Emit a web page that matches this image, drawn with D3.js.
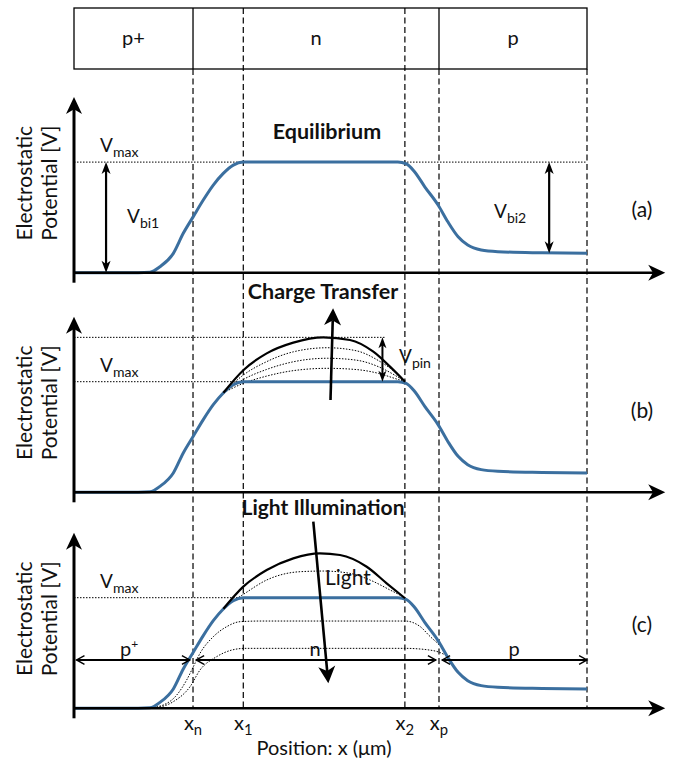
<!DOCTYPE html>
<html><head><meta charset="utf-8">
<script src="https://cdn.jsdelivr.net/npm/d3@7"></script>
<style>
body{margin:0;background:#fff}
svg text{font-family:Lato,"Open Sans",sans-serif;fill:#111}
</style>
</head><body>
<svg id="chart" width="681" height="762"></svg>
<script>
// ---------------- DATA ----------------
const regionNames = ["p+", "n", "p"];
const regionEdges = [0, 1.856, 5.692, 8];           // μm
const markerNames = [["x","n"], ["x","1"], ["x","2"], ["x","p"]];
const markerPos = [1.856, 2.64, 5.16, 5.692];        // μm
const deviceEnd = 8;                                 // μm
const panelTags = ["(a)", "(b)", "(c)"];
const panelTitles = ["Equilibrium", "Charge Transfer", "Light Illumination"];
const vmax = 1.0;          // V (normalised)
const vp = 0.175;          // p-side level
const vpinTop = 1.401;     // charge-transfer peak

// equilibrium potential profile [μm, V]
const equilibrium = [[0,0],[1.0,0],[1.185,0.004],[1.341,0.054],[1.549,0.175],[1.704,0.356],[1.86,0.507],
  [2.016,0.657],[2.172,0.792],[2.328,0.898],[2.484,0.973],[2.64,1.0],[3.9,1.0],[5.05,1.0],[5.18,0.985],
  [5.31,0.913],[5.47,0.777],[5.68,0.61],[5.83,0.46],[5.99,0.325],[6.14,0.25],[6.35,0.205],[6.61,0.19],
  [7.3,0.18],[8,0.175]];
// charge transfer curves
const chargeFull  = [[2.33,0.9],[2.64,1.104],[3.005,1.256],[3.42,1.353],[3.888,1.401],[4.304,1.377],[4.668,1.271],[4.928,1.136],[5.162,1.0]];
const chargeStep1 = [[2.33,0.9],[2.64,1.06],[3.0,1.18],[3.42,1.27],[3.95,1.307],[4.4,1.28],[4.75,1.19],[5.0,1.09],[5.162,1.0]];
const chargeStep2 = [[2.33,0.9],[2.64,1.02],[3.0,1.11],[3.42,1.18],[3.95,1.212],[4.4,1.195],[4.75,1.135],[5.0,1.06],[5.162,1.0]];
const chargeStep3 = [[2.33,0.9],[2.64,0.985],[3.0,1.05],[3.42,1.1],[3.95,1.121],[4.4,1.11],[4.75,1.075],[5.0,1.03],[5.162,1.0]];
// light illumination curves
const lightFull = [[2.33,0.9],[2.64,1.10],[3.005,1.25],[3.42,1.356],[3.836,1.401],[4.148,1.386],[4.565,1.28],[4.876,1.13],[5.162,0.995]];
const lightHigh = [[2.45,0.96],[2.64,1.03],[3.005,1.16],[3.524,1.235],[3.888,1.241],[4.304,1.22],[4.616,1.16],[4.928,1.07],[5.162,1.0]];
const lightLow1 = [[1.1,0],[1.341,0.02],[1.602,0.12],[1.757,0.256],[1.861,0.376],[1.965,0.497],[2.172,0.647],[2.381,0.738],
  [2.589,0.783],[2.9,0.789],[5.162,0.789],[5.396,0.74],[5.552,0.65],[5.73,0.56]];
const lightLow2 = [[1.15,0],[1.237,0.003],[1.549,0.06],[1.809,0.195],[1.965,0.346],[2.225,0.467],[2.45,0.525],[2.667,0.542],
  [5.162,0.542],[5.5,0.53],[5.68,0.51],[5.8,0.48]];
// annotation arrows [μm, V]
const vbi1Arrow = [[0.5,0],[0.5,1.0]];
const vbi2Arrow = [[7.41,0.175],[7.41,1.0]];
const vpinArrow = [[4.81,1.0],[4.81,1.401]];
const transferArrow = [[4.0,0.835],[4.04,1.664]];
const lightArrow = [[3.732,1.687],[3.966,0.226]];
const bandArrowV = 0.437;

// ---------------- LAYOUT ----------------
const svg = d3.select("#chart");
const x = d3.scaleLinear().domain([0, deviceEnd]).range([74, 587]);
const axisYs = [272.7, 492.3, 708.3];
const unitPx = 110.6;
const ys = axisYs.map(a => d3.scaleLinear().domain([0, 1]).range([a, a - unitPx]));
const blue = "#3b6f9f";
const FONT = 19;

function line(y, curve) {
  return d3.line().x(d => x(d[0])).y(d => y(d[1])).curve(curve || d3.curveMonotoneX);
}
function filledHead(g, tx, ty, ang, len, wid) {
  const c = Math.cos(ang), s = Math.sin(ang);
  const bx = tx - c*len, by = ty - s*len;
  const nx = -s, ny = c;
  const mx = tx - c*len*0.72, my = ty - s*len*0.72;
  g.append("path").attr("d",
    `M${tx},${ty} L${bx+nx*wid/2},${by+ny*wid/2} L${mx},${my} L${bx-nx*wid/2},${by-ny*wid/2} Z`)
    .attr("fill", "#000");
}
function openHead(g, tx, ty, ang, len, spread) {
  const a1 = ang + Math.PI - spread, a2 = ang + Math.PI + spread;
  g.append("path").attr("d",
    `M${tx+Math.cos(a1)*len},${ty+Math.sin(a1)*len} L${tx},${ty} L${tx+Math.cos(a2)*len},${ty+Math.sin(a2)*len}`)
    .attr("fill","none").attr("stroke","#000").attr("stroke-width",1.4);
}
function subText(g, px, py, main, sub, anchor, size) {
  const sz = size || FONT;
  const t = g.append("text").attr("x", px).attr("y", py).attr("font-size", sz)
    .attr("text-anchor", anchor || "start");
  t.append("tspan").text(main);
  t.append("tspan").attr("font-size", sz * 0.74).attr("dy", 5).text(sub);
  return t;
}

// ---- top region box ----
const boxTop = 8, boxBot = 69;
const box = svg.append("g");
box.append("rect").attr("x", x(regionEdges[0])).attr("y", boxTop)
  .attr("width", x(regionEdges[3]) - x(regionEdges[0])).attr("height", boxBot - boxTop)
  .attr("fill", "none").attr("stroke", "#000").attr("stroke-width", 1.3);
[regionEdges[1], regionEdges[2]].forEach(e => {
  box.append("line").attr("x1", x(e)).attr("x2", x(e)).attr("y1", boxTop).attr("y2", boxBot)
    .attr("stroke", "#000").attr("stroke-width", 1.3);
});
regionNames.forEach((n, i) => {
  box.append("text").attr("x", (x(regionEdges[i]) + x(regionEdges[i+1])) / 2).attr("y", 45)
    .attr("text-anchor", "middle").attr("font-size", 20).text(n);
});

// ---- dashed guide lines ----
const guides = [markerPos[0], markerPos[1], markerPos[2], markerPos[3], deviceEnd];
guides.forEach(p => {
  const inside = (p === markerPos[1] || p === markerPos[2]);
  svg.append("line").attr("x1", x(p)).attr("x2", x(p))
    .attr("y1", inside ? boxTop : boxBot).attr("y2", axisYs[2])
    .attr("stroke", "#000").attr("stroke-width", 1.2).attr("stroke-dasharray", "6,3.5");
});

// ---- panels ----
axisYs.forEach((ay, i) => {
  const y = ys[i];
  const g = svg.append("g");
  const vmaxEnd = i === 0 ? deviceEnd : markerPos[2];
  g.append("line").attr("x1", x(0)).attr("x2", x(vmaxEnd)).attr("y1", y(vmax)).attr("y2", y(vmax))
    .attr("stroke", "#000").attr("stroke-width", 1).attr("stroke-dasharray", "1.5,1.5");

  if (i === 1) {
    g.append("line").attr("x1", x(0)).attr("x2", x(4.85)).attr("y1", y(vpinTop)).attr("y2", y(vpinTop))
      .attr("stroke", "#000").attr("stroke-width", 1).attr("stroke-dasharray", "1.5,1.5");
    [chargeStep1, chargeStep2, chargeStep3].forEach(d => {
      g.append("path").attr("d", line(y)(d)).attr("fill","none").attr("stroke","#000")
        .attr("stroke-width", 1).attr("stroke-dasharray", "1.5,1.5");
    });
  }
  if (i === 2) {
    [lightHigh, lightLow1, lightLow2].forEach(d => {
      g.append("path").attr("d", line(y)(d)).attr("fill","none").attr("stroke","#000")
        .attr("stroke-width", 1).attr("stroke-dasharray", "1.5,1.5");
    });
  }

  g.append("path").attr("d", line(y)(equilibrium)).attr("fill", "none")
    .attr("stroke", blue).attr("stroke-width", 3);

  if (i === 1) g.append("path").attr("d", line(y)(chargeFull)).attr("fill","none").attr("stroke","#000").attr("stroke-width",2.2);
  if (i === 2) g.append("path").attr("d", line(y)(lightFull)).attr("fill","none").attr("stroke","#000").attr("stroke-width",2.2);

  // axes
  const yTop = y(1.588), xEnd = x(9.22);
  g.append("line").attr("x1", x(0)).attr("x2", x(0)).attr("y1", ay + 10).attr("y2", yTop + 10)
    .attr("stroke", "#000").attr("stroke-width", 3);
  filledHead(g, x(0), yTop, -Math.PI/2, 17, 16);
  g.append("line").attr("x1", x(0)).attr("x2", xEnd - 10).attr("y1", ay).attr("y2", ay)
    .attr("stroke", "#000").attr("stroke-width", 2.6);
  filledHead(g, xEnd, ay, 0, 17, 16);

  // y label
  const cy = ay - 89.5;
  g.append("text").attr("transform", `translate(32,${cy}) rotate(-90)`).attr("text-anchor","middle")
    .attr("font-size", 21).text("Electrostatic");
  g.append("text").attr("transform", `translate(57,${cy}) rotate(-90)`).attr("text-anchor","middle")
    .attr("font-size", 21).text("Potential [V]");

  subText(g, 100, y(vmax) - 10, "V", "max");

  const tagY = [217, 418, 632][i];
  g.append("text").attr("x", 642).attr("y", tagY).attr("text-anchor","middle").attr("font-size", 21).text(panelTags[i]);
});

// ---- panel (a) annotations ----
(function(){
  const y = ys[0], g = svg.append("g");
  [vbi1Arrow, vbi2Arrow].forEach(a => {
    g.append("line").attr("x1", x(a[0][0])).attr("x2", x(a[1][0])).attr("y1", y(a[0][1]) - 6).attr("y2", y(a[1][1]) + 6)
      .attr("stroke","#000").attr("stroke-width",2.2);
    filledHead(g, x(a[1][0]), y(a[1][1]), -Math.PI/2, 12, 9);
    filledHead(g, x(a[0][0]), y(a[0][1]), Math.PI/2, 12, 9);
  });
  subText(g, 127, 223, "V", "bi1");
  subText(g, 494, 218, "V", "bi2");
  g.append("text").attr("x", 327).attr("y", 139).attr("text-anchor","middle").attr("font-size", 21.5)
    .attr("font-weight","bold").text(panelTitles[0]);
})();

// ---- panel (b) annotations ----
(function(){
  const y = ys[1], g = svg.append("g");
  const a = vpinArrow;
  g.append("line").attr("x1", x(a[0][0])).attr("x2", x(a[1][0])).attr("y1", y(a[0][1]) - 6).attr("y2", y(a[1][1]) + 6)
    .attr("stroke","#000").attr("stroke-width",2);
  filledHead(g, x(a[1][0]), y(a[1][1]), -Math.PI/2, 11, 8);
  filledHead(g, x(a[0][0]), y(a[0][1]), Math.PI/2, 11, 8);
  subText(g, 399, 363, "V", "pin");
  const t = transferArrow;
  const x0 = x(t[0][0]), y0 = y(t[0][1]), x1 = x(t[1][0]), y1 = y(t[1][1]);
  const ang = Math.atan2(y1 - y0, x1 - x0);
  g.append("line").attr("x1", x0).attr("y1", y0).attr("x2", x1 - Math.cos(ang)*12).attr("y2", y1 - Math.sin(ang)*12)
    .attr("stroke","#000").attr("stroke-width",2.6);
  filledHead(g, x1, y1, ang, 17, 17);
  g.append("text").attr("x", 323).attr("y", 299).attr("text-anchor","middle").attr("font-size", 21.5)
    .attr("font-weight","bold").text(panelTitles[1]);
})();

// ---- panel (c) annotations ----
(function(){
  const y = ys[2], g = svg.append("g");
  const t = lightArrow;
  const x0 = x(t[0][0]), y0 = y(t[0][1]), x1 = x(t[1][0]), y1 = y(t[1][1]);
  const ang = Math.atan2(y1 - y0, x1 - x0);
  g.append("line").attr("x1", x0).attr("y1", y0).attr("x2", x1 - Math.cos(ang)*12).attr("y2", y1 - Math.sin(ang)*12)
    .attr("stroke","#000").attr("stroke-width",2.6);
  filledHead(g, x1, y1, ang, 17, 17);
  g.append("text").attr("x", 323).attr("y", 515).attr("text-anchor","middle").attr("font-size", 21)
    .attr("font-weight","bold").text(panelTitles[2]);
  g.append("text").attr("x", 325).attr("y", 585).attr("font-size", 21).text("Light");

  const by = y(bandArrowV);
  const gap = 0.05;
  const spans = [[regionEdges[0] + 0.04, regionEdges[1] - gap], [regionEdges[1] + gap, regionEdges[2] - gap], [regionEdges[2] + gap, regionEdges[3]]];
  spans.forEach(s => {
    g.append("line").attr("x1", x(s[0])).attr("x2", x(s[1])).attr("y1", by).attr("y2", by)
      .attr("stroke","#000").attr("stroke-width",2);
    openHead(g, x(s[0]), by, Math.PI, 9, 0.5);
    openHead(g, x(s[1]), by, 0, 9, 0.5);
  });
  const bandLabels = [["p","+"], ["n",""], ["p",""]];
  bandLabels.forEach((l, k) => {
    const cx = [129, 315, 514][k];
    const tt = g.append("text").attr("x", cx).attr("y", 656).attr("text-anchor","middle").attr("font-size", 20);
    tt.append("tspan").text(l[0]);
    if (l[1]) tt.append("tspan").attr("font-size", 12).attr("dy", -8).text(l[1]);
  });

  markerNames.forEach((m, k) => {
    subText(g, x(markerPos[k]), 730, m[0], m[1], "middle", 20);
  });
  g.append("text").attr("x", 324).attr("y", 755).attr("text-anchor","middle").attr("font-size", 20)
    .text("Position: x (μm)");
})();
</script>
</body></html>
